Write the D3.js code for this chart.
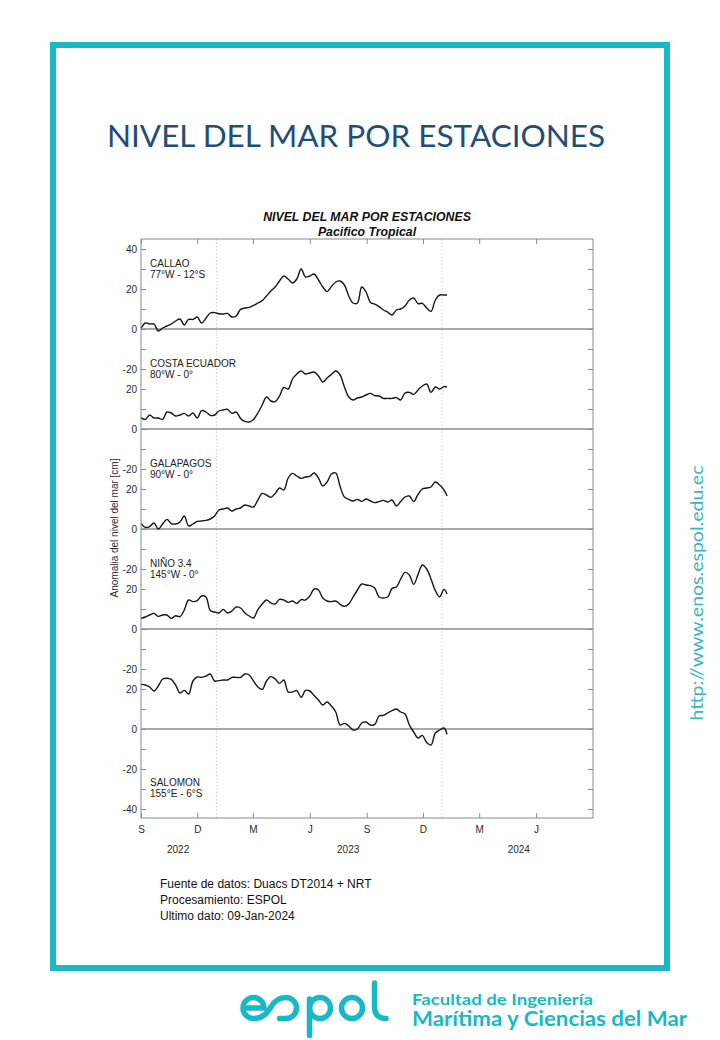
<!DOCTYPE html>
<html><head><meta charset="utf-8">
<script src="https://cdn.jsdelivr.net/npm/d3@7"></script>
<style>body{margin:0;background:#fff} svg{display:block}</style>
</head><body>
<svg id="c" width="720" height="1040"></svg>
<script>
// ---------------- DATA ----------------
const stations = ["CALLAO", "COSTA ECUADOR", "GALAPAGOS", "NIÑO 3.4", "SALOMON"];
const stationCoords = ["77°W - 12°S", "80°W - 0°", "90°W - 0°", "145°W - 0°", "155°E - 6°S"];
const stationOffsets = [0, -50, -100, -150, -200];

// weekly samples from 01-Sep-2022, last one is 09-Jan-2024 (cm)
const callao = [0.3,3,2.5,2.5,-1,0.5,1.5,2.5,4,5, 2,4.8,4.8,6,3,5.3,8,8.2,7.6,7.5, 7.8,6,6.5,9.8,10.5,10.8,11.8,13,14.2,16.5, 19,21,24,26.5,25,23,25,30,26,26.5, 27.5,24.5,21,18.7,21.3,23.5,24,22,16.5,13, 13,21,18.5,13.3,12.4,11.2,9.5,8.4,7,9.5, 10,11.5,14.5,15.5,12.7,12.8,10.5,8.8,14.5,17, 17,17];
const costaEcuador = [5.7,4.8,7,5.5,5.5,4.8,8.5,8,6.5,7, 7.8,6.5,8,5.5,9.2,8.5,6.8,7,9,9.5, 9.8,7.8,8.5,5.3,3.8,3.5,4.8,8,12,16, 14,13.7,16.5,20.8,20,25,27.5,29,27.5,28, 28.5,26.5,23.5,25.5,27.3,29,27,21,16,14.5, 15.5,16,17,17.8,16.7,16.5,15.3,15.3,15.3,15.7, 14.5,18,18.3,17.3,19.5,21.5,22.5,18.3,21,20, 21.2,21];
const galapagos = [2.8,0.8,1.2,3,0,2.5,4.8,2.7,2.5,3.5, 6.5,1.5,2.5,3.8,4,4.3,5,6.5,9.5,10, 10.5,9,10,10.5,12,11.5,11,14.5,17.8,17, 15.8,17.8,20.5,19.5,25.5,27.8,26.5,25.3,26,26.3, 28,25.5,21.5,23.5,27.5,28,21.2,16,14.8,14, 14.8,13.8,15,14,13.2,13.7,14.3,13.5,14.5,11.5, 13.8,16,16.5,13.7,17.3,20,20.5,21,23.5,22, 19.5,16.5];
const nino34 = [5.3,6,7,7.8,6.3,7,7,5.3,6.6,6.2, 9.5,14.5,13.7,14.2,16.5,16,9.3,8.5,8,9.8, 8,9,11,10.5,8,6.5,5.5,9.7,12.5,14.5, 13,12.5,14.8,14.5,13.3,14,12.8,14.7,14.5,16.5, 20,19.5,15.5,14,13.7,14,12.3,11.3,12.5,16, 19.5,22.5,22,21.7,20.5,16,15.5,16,20.3,21, 25,28.3,27,22.3,27.2,32,30,25,19.2,16, 19.8,17.5];
const salomon = [22.3,22,21,19,21.5,25,25.4,24.8,22,18, 19.3,17.5,24,26,25.8,26.4,27.5,24,24.2,24.5, 24.5,25.8,25.8,25.8,27.5,27,24,21,19.8,24, 26.2,25,22.8,24.5,18.5,18.5,19.2,15.8,19.3,19, 16.8,14.5,12,13.5,11.5,8.5,2,2.8,1.5,-0.5, 0,3,3.5,2,2.3,6.5,6.8,8,9.2,10, 8.5,7.5,2,-1.5,-4.5,-3.2,-6.8,-8,-2,-0.5, 0.5,-2.7];
const seriesList = [callao, costaEcuador, galapagos, nino34, salomon];

const startDate = new Date(2022, 8, 1);
const lastDate = new Date(2024, 0, 9);
const sampleDates = d3.range(71).map(i => d3.timeDay.offset(startDate, 7 * i)).concat([lastDate]);

const monthTickDates = [new Date(2022,8,1), new Date(2022,11,1), new Date(2023,2,1), new Date(2023,5,1), new Date(2023,8,1), new Date(2023,11,1), new Date(2024,2,1), new Date(2024,5,1)];
const monthTickLabels = ["S","D","M","J","S","D","M","J"];
const yearLabels = ["2022","2023","2024"];
const yearLabelDates = [new Date(2022,9,31), new Date(2023,7,2), new Date(2024,4,4)];
const yearLines = [new Date(2023,0,1), new Date(2024,0,1)];

const yTickValues = d3.range(40, -241, -10);
const yLabelPos = [40,20,0,-20,-30,-50,-70,-80,-100,-120,-130,-150,-170,-180,-200,-220,-240];
const yLabelText = ["40","20","0","-20","20","0","-20","20","0","-20","20","0","-20","20","0","-20","-40"];

const footerLines = ["Fuente de datos: Duacs DT2014 + NRT", "Procesamiento: ESPOL", "Ultimo dato: 09-Jan-2024"];

// ---------------- DRAW ----------------
(function () {
const teal = "#17B9C6";
const axisColor = "#8a8a8a";
const chartFont = "'Liberation Sans', Arial, sans-serif";
const svg = d3.select("#c");

// frame
svg.append("rect").attr("x", 53).attr("y", 45).attr("width", 614).attr("height", 923)
  .attr("fill", "none").attr("stroke", teal).attr("stroke-width", 6);

// big title
svg.append("text").attr("x", 356).attr("y", 147).attr("text-anchor", "middle")
  .attr("font-family", "Lato, 'Open Sans', sans-serif").attr("font-size", 31)
  .attr("fill", "#1F4E79").attr("textLength", 498).attr("lengthAdjust", "spacingAndGlyphs")
  .text("NIVEL DEL MAR POR ESTACIONES");

const pL = 141, pR = 593, pT = 239, pB = 818;
const x = d3.scaleTime().domain([new Date(2022,8,1), new Date(2024,8,1)]).range([pL, pR]);
const y = d3.scaleLinear().domain([-244.5, 45]).range([pB, pT]);

// chart titles
svg.append("text").attr("x", (pL + pR) / 2).attr("y", 221).attr("text-anchor", "middle")
  .attr("font-family", chartFont).attr("font-size", 12.3).attr("font-weight", "bold").attr("font-style", "italic")
  .attr("fill", "#111").text("NIVEL DEL MAR POR ESTACIONES");
svg.append("text").attr("x", (pL + pR) / 2).attr("y", 236).attr("text-anchor", "middle")
  .attr("font-family", chartFont).attr("font-size", 12.3).attr("font-weight", "bold").attr("font-style", "italic")
  .attr("fill", "#111").text("Pacifico Tropical");

// dotted year lines
svg.selectAll("line.yl").data(yearLines).enter().append("line")
  .attr("x1", d => x(d)).attr("x2", d => x(d)).attr("y1", pT).attr("y2", pB)
  .attr("stroke", "#c4c4c4").attr("stroke-width", 0.8).attr("stroke-dasharray", "1.5,2");

// zero lines
svg.selectAll("line.zl").data(stationOffsets).enter().append("line")
  .attr("x1", pL).attr("x2", pR).attr("y1", d => y(d)).attr("y2", d => y(d))
  .attr("stroke", "#8c8c8c").attr("stroke-width", 1.3);

// series
const line = d3.line().curve(d3.curveCatmullRom.alpha(0.5));
seriesList.forEach((s, i) => {
  const pts = s.map((v, j) => [x(sampleDates[j]), y(v + stationOffsets[i])]);
  svg.append("path").attr("d", line(pts)).attr("fill", "none")
    .attr("stroke", "#161616").attr("stroke-width", 1.4).attr("stroke-linejoin", "round");
});

// box
svg.append("rect").attr("x", pL).attr("y", pT).attr("width", pR - pL).attr("height", pB - pT)
  .attr("fill", "none").attr("stroke", axisColor).attr("stroke-width", 1);

function styleAxis(g) {
  g.select(".domain").remove();
  g.attr("font-family", chartFont).attr("font-size", 10);
  g.selectAll("line").attr("stroke", axisColor);
  g.selectAll("text").attr("fill", "#2a2a2a");
}
svg.append("g").attr("transform", `translate(${pL},0)`)
  .call(d3.axisLeft(y).tickValues(yTickValues).tickSize(-5).tickPadding(4)
    .tickFormat(v => { const k = yLabelPos.indexOf(v); return k >= 0 ? yLabelText[k] : ""; }))
  .call(styleAxis);
svg.append("g").attr("transform", `translate(${pR},0)`)
  .call(d3.axisRight(y).tickValues(yTickValues).tickSize(-5).tickFormat(""))
  .call(styleAxis);
svg.append("g").attr("transform", `translate(0,${pB})`)
  .call(d3.axisBottom(x).tickValues(monthTickDates).tickSize(-5).tickPadding(8)
    .tickFormat((d, i) => monthTickLabels[i]))
  .call(styleAxis);
svg.append("g").attr("transform", `translate(0,${pT})`)
  .call(d3.axisTop(x).tickValues(monthTickDates).tickSize(-5).tickFormat(""))
  .call(styleAxis);

// year labels
svg.selectAll("text.yr").data(yearLabels).enter().append("text")
  .attr("x", (d, i) => x(yearLabelDates[i])).attr("y", 853).attr("text-anchor", "middle")
  .attr("font-family", chartFont).attr("font-size", 10).attr("fill", "#2a2a2a").text(d => d);

// station labels
stations.forEach((name, i) => {
  const base = i < 4 ? y(stationOffsets[i]) - 62.5 : y(stationOffsets[i]) + 57;
  svg.append("text").attr("x", 150).attr("y", base).attr("font-family", chartFont)
    .attr("font-size", 10).attr("fill", "#222").text(name);
  svg.append("text").attr("x", 150).attr("y", base + 11).attr("font-family", chartFont)
    .attr("font-size", 10).attr("fill", "#222").text(stationCoords[i]);
});

// y axis title
svg.append("text").attr("transform", "translate(118,528) rotate(-90)").attr("text-anchor", "middle")
  .attr("font-family", chartFont).attr("font-size", 10).attr("fill", "#2a2a2a")
  .text("Anomalia del nivel del mar [cm]");

// footer
footerLines.forEach((t, i) => {
  svg.append("text").attr("x", 160).attr("y", 888 + 16 * i).attr("font-family", chartFont)
    .attr("font-size", 12).attr("fill", "#111").text(t);
});

// url
svg.append("text").attr("transform", "translate(703,593) rotate(-90)").attr("text-anchor", "middle")
  .attr("font-family", "Lato, 'Open Sans', sans-serif").attr("font-size", 17)
  .attr("fill", "#35B6C2").attr("textLength", 255).attr("lengthAdjust", "spacingAndGlyphs")
  .text("http://www.enos.espol.edu.ec");

// espol logo
const logo = svg.append("g").attr("fill", "none").attr("stroke", teal).attr("stroke-width", 5.5)
  .attr("stroke-linecap", "round").attr("stroke-linejoin", "round");
logo.append("path").attr("d",
  "M243.5 1008 H264 A10.5 10.5 0 1 0 253.5 1018.5 C263 1018.5 267 1013 271 1007 C274 1001.5 279 997.5 286 997.5 A10.5 10.5 0 0 1 286 1018.5 L279.5 1018.5");
logo.append("path").attr("d", "M309.5 999 V1035.5");
logo.append("circle").attr("cx", 320).attr("cy", 1008).attr("r", 10.5);
logo.append("circle").attr("cx", 352).attr("cy", 1008).attr("r", 10.5);
logo.append("path").attr("d", "M374.5 983 V1007 C374.5 1015 379 1018.5 386 1018.5");

svg.append("text").attr("x", 412).attr("y", 1005).attr("font-family", "Lato, 'Open Sans', sans-serif")
  .attr("font-weight", "bold").attr("font-size", 16).attr("fill", teal)
  .attr("textLength", 181).attr("lengthAdjust", "spacingAndGlyphs").text("Facultad de Ingeniería");
svg.append("text").attr("x", 412).attr("y", 1026).attr("font-family", "Lato, 'Open Sans', sans-serif")
  .attr("font-weight", "bold").attr("font-size", 20).attr("fill", teal)
  .attr("textLength", 275).attr("lengthAdjust", "spacingAndGlyphs").text("Marítima y Ciencias del Mar");
})();
</script>
</body></html>
